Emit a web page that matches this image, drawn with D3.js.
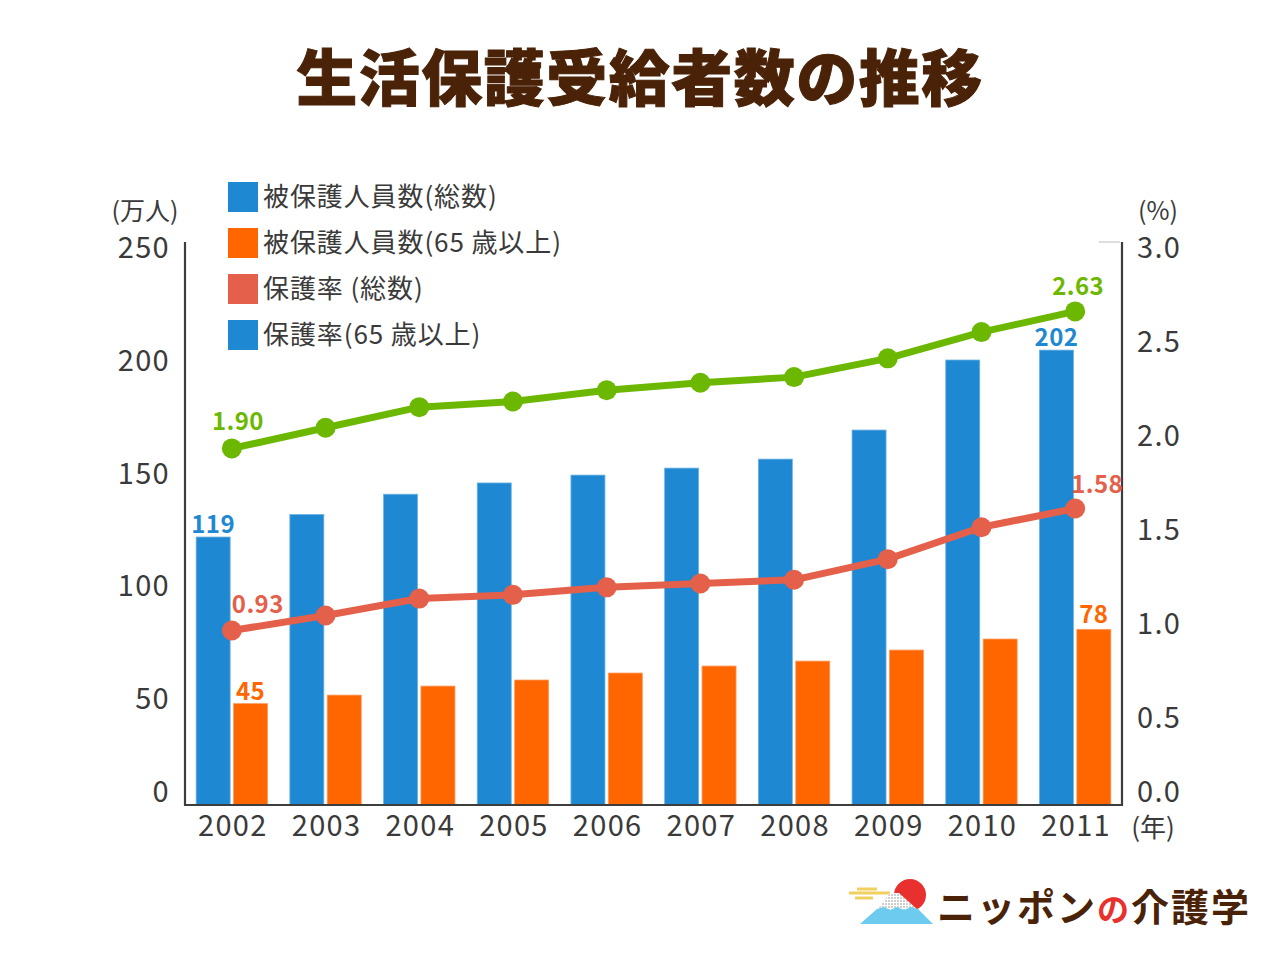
<!DOCTYPE html>
<html><head><meta charset="utf-8">
<script src="https://cdn.jsdelivr.net/npm/d3@7"></script>
<style>
body{margin:0;background:#fff;}
text{font-family:"Noto Sans CJK JP","Noto Sans",sans-serif;}
</style></head>
<body>
<svg id="c" width="1280" height="960"></svg>
<script>
const years = ["2002","2003","2004","2005","2006","2007","2008","2009","2010","2011"];
const totalPeople = [119,129,138,143,146.5,149.6,153.6,166.5,197.6,202];
const elderlyPeople = [45,48.8,52.8,55.5,58.6,61.7,63.9,68.8,73.7,78];
const rateTotal = [0.93,1.01,1.10,1.12,1.16,1.18,1.20,1.31,1.48,1.58];
const rateElderly = [1.90,2.01,2.12,2.15,2.21,2.25,2.28,2.38,2.52,2.63];
const leftTicks = [0,50,100,150,200,250];
const rightTicks = [0.0,0.5,1.0,1.5,2.0,2.5,3.0];
const legendLabels = ["被保護人員数(総数)","被保護人員数(65 歳以上)","保護率 (総数)","保護率(65 歳以上)"];
const title = "生活保護受給者数の推移";

const C = {blue:"#1e88d2", orange:"#ff6600", red:"#e4604a", green:"#6cb800", brown:"#4a2207", axis:"#3d3d3d", text:"#3a3a3a"};
const legendColors = [C.blue, C.orange, C.red, C.blue];

const svg = d3.select("#c");
const L = 185, R = 1122, T = 242, B = 805;
const x = d3.scaleBand().domain(years).range([L, R]);
const yL = d3.scaleLinear().domain([0,250]).range([B, T]);
const yR = d3.scaleLinear().domain([0,3]).range([B, T]);

// title
svg.append("text").attr("x",640).attr("y",101).attr("text-anchor","middle")
  .attr("font-size",61).attr("font-weight",900).attr("fill",C.brown).attr("letter-spacing",1.5)
  .attr("stroke",C.brown).attr("stroke-width",1).text(title);

// bars
const bw = 34, gap = 1.7;
svg.append("g").selectAll("rect").data(years).join("rect")
  .attr("x", d => x(d) + x.bandwidth()/2 - gap - bw)
  .attr("y", (d,i) => yL(totalPeople[i]))
  .attr("width", bw).attr("height", (d,i) => B - yL(totalPeople[i]))
  .attr("fill", C.blue).attr("stroke","#6fb3e4").attr("stroke-width",0.8);
svg.append("g").selectAll("rect").data(years).join("rect")
  .attr("x", d => x(d) + x.bandwidth()/2 + gap)
  .attr("y", (d,i) => yL(elderlyPeople[i]))
  .attr("width", bw).attr("height", (d,i) => B - yL(elderlyPeople[i]))
  .attr("fill", C.orange).attr("stroke","#ff9a5c").attr("stroke-width",0.8);

// lines
function drawLine(vals, color){
  const pts = years.map((d,i)=>[x(d)+x.bandwidth()/2, yR(vals[i])]);
  svg.append("path").attr("d", d3.line()(pts)).attr("fill","none")
    .attr("stroke",color).attr("stroke-width",7).attr("stroke-linejoin","round");
  svg.append("g").selectAll("circle").data(pts).join("circle")
    .attr("cx",d=>d[0]).attr("cy",d=>d[1]).attr("r",10).attr("fill",color);
}
drawLine(rateTotal, C.red);
drawLine(rateElderly, C.green);

// axes lines
const ax = svg.append("g").attr("stroke",C.axis).attr("stroke-width",2.2).attr("fill","none");
ax.append("path").attr("d",`M${L},${T}V${B}H${R}V${T}`);
svg.append("line").attr("x1",R-23).attr("x2",R-2).attr("y1",T).attr("y2",T).attr("stroke","#c8c8c8").attr("stroke-width",1.2);

const tickFont = {size:29, ls:1.3};
// left axis labels
svg.append("g").selectAll("text").data(leftTicks).join("text")
  .attr("x",170).attr("y",d => d===0 ? yL(0)-13 : yL(d)+6)
  .attr("dy","0.36em").attr("text-anchor","end").attr("font-size",tickFont.size).attr("letter-spacing",tickFont.ls)
  .attr("fill",C.text).text(d=>d);
// right axis labels
svg.append("g").selectAll("text").data(rightTicks).join("text")
  .attr("x",1137).attr("y",d => d===0 ? yR(0)-13 : yR(d)+6)
  .attr("dy","0.36em").attr("text-anchor","start").attr("font-size",tickFont.size).attr("letter-spacing",tickFont.ls)
  .attr("fill",C.text).text(d=>d.toFixed(1));
// x labels
svg.append("g").selectAll("text").data(years).join("text")
  .attr("x",d=>x(d)+x.bandwidth()/2+1).attr("y",826).attr("dy","0.36em")
  .attr("text-anchor","middle").attr("font-size",tickFont.size).attr("letter-spacing",tickFont.ls)
  .attr("fill",C.text).text(d=>d);

// units
svg.append("text").attr("x",145).attr("y",211).attr("dy","0.36em").attr("text-anchor","middle").attr("font-size",25).attr("fill",C.text).text("(万人)");
svg.append("text").attr("x",1158).attr("y",211).attr("dy","0.36em").attr("text-anchor","middle").attr("font-size",25).attr("fill",C.text).text("(%)");
svg.append("text").attr("x",1153).attr("y",828).attr("dy","0.36em").attr("text-anchor","middle").attr("font-size",26).attr("fill",C.text).text("(年)");

// legend
const lg = svg.append("g").selectAll("g").data(legendLabels).join("g")
  .attr("transform",(d,i)=>`translate(228,${182+i*46})`);
lg.append("rect").attr("width",30).attr("height",30).attr("fill",(d,i)=>legendColors[i]);
lg.append("text").attr("x",35).attr("y",15).attr("dy","0.36em").attr("font-size",26).attr("letter-spacing",0.9)
  .attr("fill",C.text).text(d=>d);

// value labels
const last = years.length-1;
const cx = i => x(years[i]) + x.bandwidth()/2;
const vl = svg.append("g").attr("font-size",24).attr("font-weight",600).attr("letter-spacing",0.4);
vl.append("text").attr("x",cx(0)-bw/2-gap).attr("y",yL(totalPeople[0])-13).attr("dy","0.36em").attr("text-anchor","middle").attr("fill",C.blue).text("119");
vl.append("text").attr("x",cx(last)-bw/2-gap).attr("y",yL(totalPeople[last])-13).attr("dy","0.36em").attr("text-anchor","middle").attr("fill",C.blue).text("202");
vl.append("text").attr("x",cx(0)+bw/2+gap).attr("y",yL(elderlyPeople[0])-12).attr("dy","0.36em").attr("text-anchor","middle").attr("fill",C.orange).text("45");
vl.append("text").attr("x",cx(last)+bw/2+gap).attr("y",yL(elderlyPeople[last])-15).attr("dy","0.36em").attr("text-anchor","middle").attr("fill",C.orange).text("78");
vl.append("text").attr("x",cx(0)).attr("y",yR(rateTotal[0])-26).attr("dy","0.36em").attr("text-anchor","start").attr("fill",C.red).text("0.93");
vl.append("text").attr("x",cx(last)-4).attr("y",yR(rateTotal[last])-24).attr("dy","0.36em").attr("text-anchor","start").attr("fill",C.red).text("1.58");
vl.append("text").attr("x",cx(0)+6).attr("y",yR(rateElderly[0])-27).attr("dy","0.36em").attr("text-anchor","middle").attr("fill",C.green).text("1.90");
vl.append("text").attr("x",cx(last)+3).attr("y",yR(rateElderly[last])-25).attr("dy","0.36em").attr("text-anchor","middle").attr("fill",C.green).text("2.63");

// logo
const lo = svg.append("g");
lo.append("g").attr("stroke","#f0d060").attr("stroke-width",3)
  .selectAll("line").data([[857,889,877],[849,893,890],[855,898,873]]).join("line")
  .attr("x1",d=>d[0]).attr("x2",d=>d[2]).attr("y1",d=>d[1]).attr("y2",d=>d[1]);
lo.append("circle").attr("cx",910).attr("cy",895).attr("r",16).attr("fill","#e8312f");
const pat = svg.append("defs").append("pattern").attr("id","dots").attr("width",3).attr("height",3).attr("patternUnits","userSpaceOnUse");
pat.append("rect").attr("width",3).attr("height",3).attr("fill","#ffffff");
pat.append("rect").attr("width",2).attr("height",2).attr("fill","#cfcfcf");
lo.append("path").attr("d","M890,893 L899,893 L918,910 L877,910 Z").attr("fill","url(#dots)");
lo.append("path").attr("d","M877,909 L884,907 L890,910 L897,907 L904,910 L911,907 L918,909 L933,924 L860,924 Z").attr("fill","#6ccbee");
svg.append("text").attr("x",937).attr("y",921).attr("font-size",38).attr("font-weight",700).attr("fill",C.brown)
  .attr("letter-spacing",2)
  .html('ニッポン<tspan fill="#e8312f" font-size="32">の</tspan>介護学');
</script>
</body></html>
